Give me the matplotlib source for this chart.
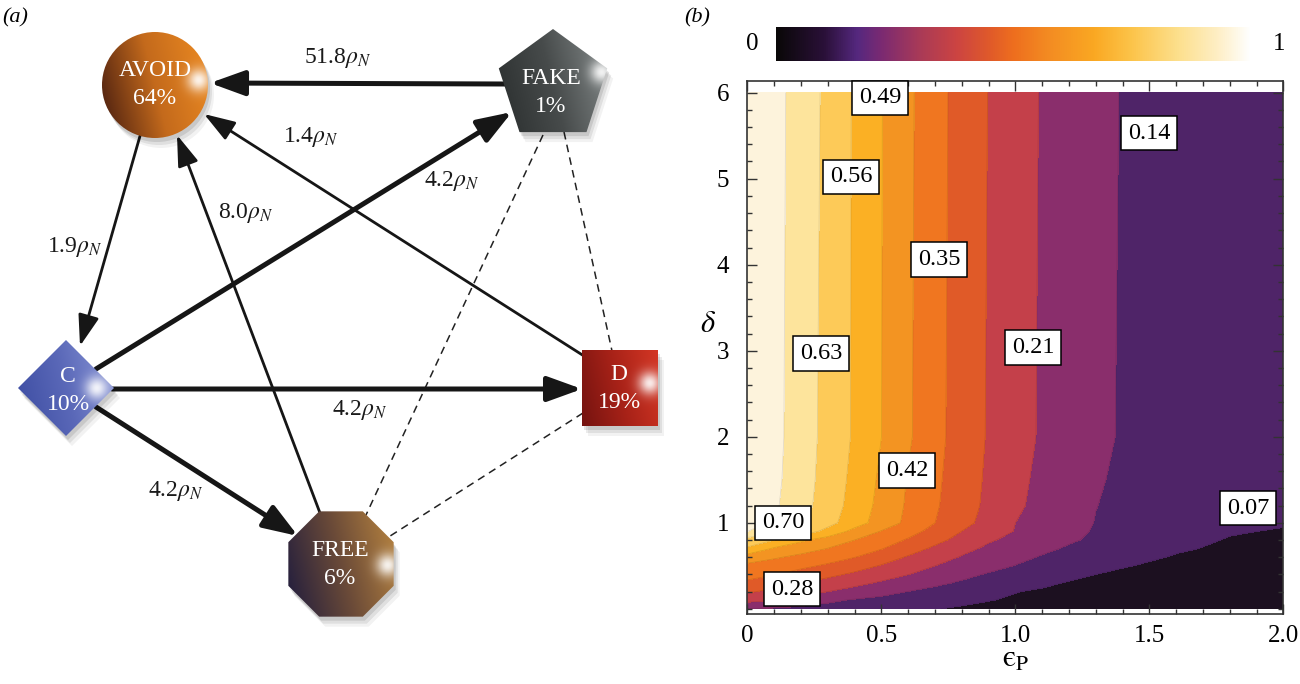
import numpy as np
import matplotlib
matplotlib.use("Agg")
import matplotlib.pyplot as plt
from matplotlib.patches import Circle, Polygon
from matplotlib.colors import LinearSegmentedColormap

plt.rcParams["font.family"] = ["Liberation Serif", "DejaVu Serif"]
plt.rcParams["mathtext.fontset"] = "stix"

W, H = 1300, 684

# ---------------- panel (a): transition network ----------------
node_names = ["AVOID", "FAKE", "C", "D", "FREE"]
node_share = ["64%", "1%", "10%", "19%", "6%"]

edge_src = ["FAKE", "AVOID", "FREE", "D", "C", "C", "C"]
edge_dst = ["AVOID", "C", "AVOID", "AVOID", "FAKE", "D", "FREE"]
edge_rate = ["51.8", "1.9", "8.0", "1.4", "4.2", "4.2", "4.2"]
edge_thick = [True, False, False, False, True, True, True]

dashed_pairs = [("FAKE", "FREE"), ("FAKE", "D"), ("D", "FREE")]

# ---------------- panel (b): contour data ----------------
eps_grid = [0.0, 0.1, 0.2, 0.3, 0.4, 0.5, 0.6, 0.7, 0.8, 0.9, 1.0,
            1.1, 1.2, 1.3, 1.4, 1.6, 1.8, 2.0]
delta_grid = [0.0, 0.1, 0.2, 0.3, 0.4, 0.5, 0.6, 0.7, 0.8, 0.9, 1.0,
              1.2, 1.5, 2.0, 6.0]
frac_grid = [
    [0.140, 0.132, 0.124, 0.116, 0.107, 0.095, 0.083, 0.072, 0.062, 0.055, 0.050, 0.045, 0.040, 0.036, 0.033, 0.028, 0.024, 0.020],
    [0.232, 0.210, 0.181, 0.152, 0.133, 0.121, 0.109, 0.097, 0.085, 0.072, 0.063, 0.056, 0.050, 0.044, 0.040, 0.032, 0.026, 0.020],
    [0.289, 0.262, 0.236, 0.210, 0.186, 0.162, 0.139, 0.122, 0.105, 0.087, 0.072, 0.062, 0.053, 0.046, 0.040, 0.032, 0.026, 0.020],
    [0.336, 0.308, 0.280, 0.254, 0.227, 0.201, 0.177, 0.152, 0.132, 0.115, 0.098, 0.081, 0.066, 0.058, 0.050, 0.040, 0.032, 0.025],
    [0.375, 0.352, 0.325, 0.296, 0.268, 0.240, 0.211, 0.184, 0.157, 0.134, 0.118, 0.101, 0.085, 0.070, 0.062, 0.050, 0.040, 0.030],
    [0.405, 0.385, 0.364, 0.340, 0.308, 0.275, 0.242, 0.210, 0.185, 0.161, 0.138, 0.121, 0.105, 0.088, 0.073, 0.058, 0.045, 0.035],
    [0.455, 0.428, 0.402, 0.377, 0.351, 0.312, 0.273, 0.238, 0.205, 0.180, 0.156, 0.135, 0.120, 0.105, 0.090, 0.065, 0.052, 0.042],
    [0.550, 0.480, 0.449, 0.418, 0.386, 0.353, 0.309, 0.267, 0.228, 0.198, 0.175, 0.152, 0.133, 0.119, 0.105, 0.077, 0.060, 0.050],
    [0.600, 0.560, 0.502, 0.459, 0.420, 0.382, 0.343, 0.299, 0.257, 0.217, 0.192, 0.169, 0.147, 0.130, 0.117, 0.089, 0.066, 0.058],
    [0.700, 0.653, 0.601, 0.537, 0.468, 0.416, 0.373, 0.328, 0.279, 0.242, 0.207, 0.181, 0.155, 0.135, 0.123, 0.099, 0.075, 0.065],
    [0.730, 0.690, 0.640, 0.583, 0.520, 0.459, 0.404, 0.350, 0.302, 0.255, 0.210, 0.186, 0.162, 0.138, 0.125, 0.108, 0.092, 0.076],
    [0.760, 0.710, 0.655, 0.597, 0.533, 0.469, 0.410, 0.358, 0.310, 0.265, 0.221, 0.191, 0.166, 0.141, 0.128, 0.113, 0.100, 0.088],
    [0.775, 0.716, 0.660, 0.603, 0.541, 0.477, 0.415, 0.363, 0.314, 0.269, 0.227, 0.195, 0.171, 0.146, 0.130, 0.117, 0.105, 0.095],
    [0.780, 0.720, 0.664, 0.608, 0.551, 0.490, 0.429, 0.370, 0.320, 0.274, 0.236, 0.202, 0.178, 0.153, 0.135, 0.123, 0.112, 0.100],
    [0.780, 0.723, 0.669, 0.614, 0.552, 0.492, 0.433, 0.374, 0.324, 0.278, 0.240, 0.205, 0.181, 0.158, 0.137, 0.125, 0.113, 0.100],
]
contour_levels = [0.0, 0.07, 0.14, 0.21, 0.28, 0.35, 0.42, 0.49, 0.56, 0.63, 0.70, 1.0]

label_text = ["0.49", "0.14", "0.56", "0.35", "0.63", "0.21", "0.42", "0.70", "0.07", "0.28"]
label_eps = [0.494, 1.498, 0.386, 0.715, 0.274, 1.065, 0.595, 0.133, 1.868, 0.166]
label_delta = [5.94, 5.53, 5.02, 4.06, 2.97, 3.04, 1.61, 1.00, 1.17, 0.23]

# ---------------- styles / layout ----------------
band_colors = ["#1c1020", "#4f2468", "#8a2e6c", "#c4404a", "#e05a28", "#f07620",
               "#f39422", "#fbb024", "#fdca58", "#fde49c", "#fdf3dc"]
cb_stops = [0.0, 0.1, 0.17, 0.22, 0.3, 0.38, 0.45, 0.5, 0.57, 0.67, 0.75, 0.85, 0.93, 1.0]
cb_colors = ["#0a0808", "#2a1038", "#55287f", "#7a2a72", "#a83a58", "#cc4442", "#e05a2a",
             "#ee6e1e", "#f38a22", "#faa822", "#fcc44a", "#fde08e", "#feeec4", "#ffffff"]

# node layout in pixel units of panel (a)
NODE = {
    "AVOID": dict(shape="circle", c=(155, 85), r=53, txt=(155, 84),
                  cols=("#40180f", "#c46a1c", "#ee8c22"), hl=(199, 80)),
    "FAKE": dict(shape="pentagon", c=(553, 86), r=57, txt=(551, 92),
                 cols=("#262a2a", "#474b4b", "#8a9090"), hl=(602, 72)),
    "C": dict(shape="diamond", c=(66, 388), r=48, txt=(68, 390),
              cols=("#3a4aa0", "#5a68b8", "#8c98d8"), hl=(97, 388)),
    "D": dict(shape="square", c=(620, 388), r=54, txt=(619, 389),
              cols=("#5c0c0c", "#a82218", "#e8402a"), hl=(650, 383)),
    "FREE": dict(shape="octagon", c=(341, 564), r=57, txt=(340, 564),
                 cols=("#16163e", "#6a4a38", "#c08a40"), hl=(388, 565)),
}
# arrow end points (start, tip) per edge, pixel units
EDGE_PTS = [((505, 84), (210, 83)), ((140, 136), (80, 346)), ((320, 513), (177, 135)),
            ((584, 356), (204, 114)), ((96, 369), (512, 112)), ((112, 389), (582, 389)),
            ((96, 407), (298, 536))]
EDGE_LABEL_POS = [(338, 58), (75, 247), (246, 213), (311, 137), (452, 181), (360, 410), (176, 491)]
DASH_PTS = [((543, 135), (366, 515)), ((564, 132), (612, 351)), ((583, 413), (387, 538))]


def node_patch(st, dx=0, dy=0, **kw):
    cx, cy = st["c"][0] + dx, st["c"][1] + dy
    r = st["r"]
    if st["shape"] == "circle":
        return Circle((cx, cy), r, **kw)
    start, n = {"pentagon": (-90, 5), "octagon": (22.5, 8),
                "diamond": (0, 4), "square": (45, 4)}[st["shape"]]
    ang = np.deg2rad(start + 360.0 / n * np.arange(n))
    verts = np.column_stack([cx + r * np.cos(ang), cy + r * np.sin(ang)])
    return Polygon(verts, closed=True, **kw)


def draw_node(ax, name, share):
    st = NODE[name]
    cx, cy = st["c"]
    r = st["r"]
    # soft drop shadow
    for dx, dy, a in [(2, 4, 0.10), (4, 7, 0.08), (6, 10, 0.05)]:
        ax.add_patch(node_patch(st, dx, dy, fc="black", ec="none", alpha=a, zorder=2))
    x0, x1, y0, y1 = cx - r - 2, cx + r + 2, cy - r - 2, cy + r + 2
    xs = np.linspace(x0, x1, 200)
    ys = np.linspace(y0, y1, 200)
    X, Y = np.meshgrid(xs, ys)
    t = 0.8 * (X - x0) / (x1 - x0) + 0.2 * (1 - (Y - y0) / (y1 - y0))
    cmap = LinearSegmentedColormap.from_list(name, st["cols"])
    rgb = cmap(np.clip(t, 0, 1))[..., :3]
    g = np.exp(-((X - st["hl"][0]) ** 2 + (Y - st["hl"][1]) ** 2) / (2 * 8.0 ** 2))[..., None]
    rgb = rgb * (1 - 0.9 * g) + 0.9 * g
    clip = node_patch(st, fc="none", ec="none", zorder=3)
    ax.add_patch(clip)
    im = ax.imshow(rgb, extent=(x0, x1, y1, y0), origin="upper",
                   interpolation="bilinear", zorder=3)
    im.set_clip_path(clip)
    tx, ty = st["txt"]
    ax.text(tx, ty - 14, name, color="white", fontsize=17, ha="center", va="center", zorder=4)
    ax.text(tx, ty + 14, share, color="white", fontsize=17, ha="center", va="center", zorder=4)


fig = plt.figure(figsize=(W / 100, H / 100), dpi=100)

# ---- (a) ----
ax_a = fig.add_axes([0, 0, 690 / W, 1])

for (p0, p1) in DASH_PTS:
    ax_a.plot([p0[0], p1[0]], [p0[1], p1[1]], ls=(0, (5, 3.5)), lw=1.1, color="#222222", zorder=1)

for (p0, p1), thick, rate, lp in zip(EDGE_PTS, edge_thick, edge_rate, EDGE_LABEL_POS):
    if thick:
        style, lw = "-|>,head_length=1.05,head_width=0.38", 3.6
    else:
        style, lw = "-|>,head_length=0.95,head_width=0.32", 2.0
    ax_a.annotate("", xy=p1, xytext=p0,
                  arrowprops=dict(arrowstyle=style, lw=lw, color="#161616",
                                  shrinkA=0, shrinkB=0, mutation_scale=20),
                  zorder=1)
    ax_a.text(lp[0], lp[1], rate + r"$\rho_N$", fontsize=17, ha="center", va="center",
              color="#1a1a1a", zorder=5)

for name, share in zip(node_names, node_share):
    draw_node(ax_a, name, share)

ax_a.set_xlim(0, 690)
ax_a.set_ylim(H, 0)
ax_a.set_aspect("auto")
ax_a.axis("off")

# ---- (b) ----
ax_b = fig.add_axes([747.5 / W, 1 - 614 / H, 536 / W, (614 - 80.6) / H])
ax_b.contourf(eps_grid, delta_grid, frac_grid, levels=contour_levels, colors=band_colors)
ax_b.contour(eps_grid, delta_grid, frac_grid, levels=contour_levels[1:-1],
             colors=[(0, 0, 0, 0.10)], linewidths=0.6)

for txt, e, d in zip(label_text, label_eps, label_delta):
    ax_b.text(e, d, txt, ha="center", va="center", fontsize=17.5, zorder=5,
              bbox=dict(boxstyle="square,pad=0.28", fc="white", ec="black", lw=1.1))

ax_b.set_xlim(0, 2.0)
ax_b.set_ylim(-0.06, 6.14)
ax_b.set_xticks([0, 0.5, 1.0, 1.5, 2.0])
ax_b.set_xticklabels(["0", "0.5", "1.0", "1.5", "2.0"])
ax_b.set_xticks(np.arange(0, 2.01, 0.1), minor=True)
ax_b.set_yticks([1, 2, 3, 4, 5, 6])
ax_b.set_yticks(np.arange(0, 6.01, 0.2), minor=True)
ax_b.tick_params(which="both", direction="in", top=True, right=True, width=1.0, color="#333333")
ax_b.tick_params(which="major", length=7, labelsize=18)
ax_b.tick_params(which="minor", length=3.5)
ax_b.tick_params(axis="x", pad=8)
ax_b.tick_params(axis="y", pad=13)
for s in ax_b.spines.values():
    s.set_linewidth(1.2)
    s.set_color("#333333")

# colour bar strip
ax_cb = fig.add_axes([776 / W, 1 - 61 / H, 475 / W, 34 / H])
cb_cmap = LinearSegmentedColormap.from_list("sunset", list(zip(cb_stops, cb_colors)))
ax_cb.imshow(np.linspace(0, 1, 512)[None, :], aspect="auto", cmap=cb_cmap, extent=(0, 1, 0, 1))
ax_cb.axis("off")

fig.text(752 / W, 1 - 44 / H, "0", fontsize=18, ha="center", va="center")
fig.text(1279 / W, 1 - 44 / H, "1", fontsize=18, ha="center", va="center")
fig.text(15 / W, 1 - 18 / H, "(a)", fontsize=16, style="italic", ha="center", va="center")
fig.text(697 / W, 1 - 18 / H, "(b)", fontsize=16, style="italic", ha="center", va="center")
fig.text(708 / W, 1 - 325 / H, r"$\delta$", fontsize=22, ha="center", va="center")
fig.text(1016 / W, 1 - 660 / H, "\u03f5$_{\\mathrm{P}}$", fontsize=22, ha="center", va="center",
         family=["STIXGeneral", "DejaVu Serif"])

fig.savefig("out.png", dpi=100)
